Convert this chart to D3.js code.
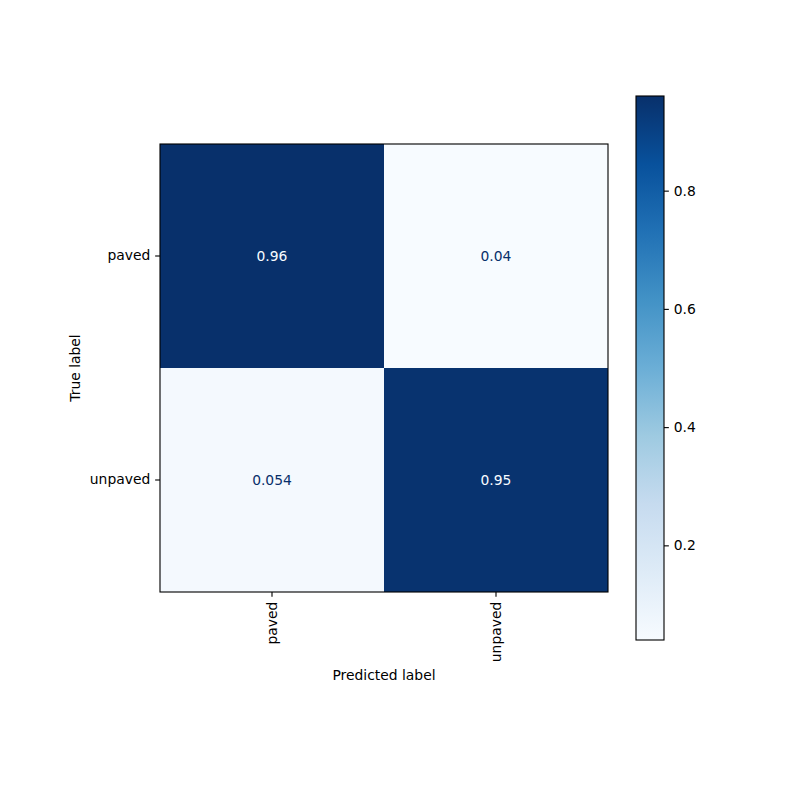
<!DOCTYPE html>
<html><head><meta charset="utf-8">
<script src="https://cdn.jsdelivr.net/npm/d3@7"></script>
<style>body{margin:0;background:#fff}text{font-family:"DejaVu Sans",sans-serif;}</style>
</head><body><svg id="c" width="800" height="800"></svg>
<script>
const trueLabels = ["paved", "unpaved"];
const predLabels = ["paved", "unpaved"];
const matrix = [[0.96, 0.04], [0.054, 0.95]];
const cellText = [["0.96", "0.04"], ["0.054", "0.95"]];
const cbTicks = [0.2, 0.4, 0.6, 0.8];
const vmin = 0.0399, vmax = 0.9601;
const bluesStops = ["#f7fbff","#deebf7","#c6dbef","#9ecae1","#6baed6","#4292c6","#2171b5","#08519c","#08306b"];

const svg = d3.select("#c");
const fs = 13.89, tk = 4.86, lw = 1.11;
const L = 160, T = 144, W = 448, H = 448;
const color = d3.scaleLinear()
  .domain(bluesStops.map((_, i) => vmin + (vmax - vmin) * i / (bluesStops.length - 1)))
  .range(bluesStops).interpolate(d3.interpolateRgb).clamp(true);

const x = d3.scaleBand().domain(predLabels).range([L, L + W]);
const y = d3.scaleBand().domain(trueLabels).range([T, T + H]);

const cells = [];
trueLabels.forEach((t, i) => predLabels.forEach((p, j) => cells.push({t, p, v: matrix[i][j], s: cellText[i][j]})));

svg.selectAll("rect.cell").data(cells).enter().append("rect")
  .attr("x", d => x(d.p)).attr("y", d => y(d.t))
  .attr("width", x.bandwidth()).attr("height", y.bandwidth())
  .attr("fill", d => color(d.v)).attr("shape-rendering", "crispEdges");

const thresh = (vmax + vmin) / 2;
svg.selectAll("text.cell").data(cells).enter().append("text")
  .attr("x", d => x(d.p) + x.bandwidth() / 2).attr("y", d => y(d.t) + y.bandwidth() / 2)
  .attr("text-anchor", "middle").attr("dominant-baseline", "central")
  .attr("font-size", fs)
  .attr("fill", d => d.v >= thresh ? color(vmin) : color(vmax))
  .text(d => d.s);

svg.append("rect").attr("x", L).attr("y", T).attr("width", W).attr("height", H)
  .attr("fill", "none").attr("stroke", "#000").attr("stroke-width", lw);

const xAxis = svg.append("g").attr("transform", `translate(0,${T + H})`)
  .call(d3.axisBottom(x).tickSize(tk).tickPadding(tk));
xAxis.select(".domain").remove();
xAxis.selectAll("line").attr("stroke-width", lw);
xAxis.selectAll("text").attr("font-size", fs).attr("font-family", "DejaVu Sans")
  .attr("transform", "rotate(-90)").attr("text-anchor", "end")
  .attr("x", -2 * tk).attr("y", 0).attr("dy", "0.35em").attr("fill", "#000");

const yAxis = svg.append("g").attr("transform", `translate(${L},0)`)
  .call(d3.axisLeft(y).tickSize(tk).tickPadding(tk));
yAxis.select(".domain").remove();
yAxis.selectAll("line").attr("stroke-width", lw);
yAxis.selectAll("text").attr("font-size", fs).attr("font-family", "DejaVu Sans").attr("fill", "#000");

svg.append("text").attr("x", L + W / 2).attr("y", 680).attr("text-anchor", "middle")
  .attr("font-size", fs).text("Predicted label");
svg.append("text").attr("transform", `translate(80,${T + H / 2}) rotate(-90)`)
  .attr("text-anchor", "middle").attr("font-size", fs).text("True label");

// colorbar
const cbX = 636, cbW = 28, cbT = 96, cbB = 640;
const cy = d3.scaleLinear().domain([vmin, vmax]).range([cbB, cbT]);
const defs = svg.append("defs");
const grad = defs.append("linearGradient").attr("id", "g").attr("x1", 0).attr("y1", 1).attr("x2", 0).attr("y2", 0);
d3.range(0, 1.0001, 0.125).forEach(f => {
  grad.append("stop").attr("offset", f).attr("stop-color", color(vmin + f * (vmax - vmin)));
});
svg.append("rect").attr("x", cbX).attr("y", cbT).attr("width", cbW).attr("height", cbB - cbT)
  .attr("fill", "url(#g)").attr("stroke", "#000").attr("stroke-width", lw);
const cAxis = svg.append("g").attr("transform", `translate(${cbX + cbW},0)`)
  .call(d3.axisRight(cy).tickValues(cbTicks).tickFormat(d3.format(".1f")).tickSize(tk).tickPadding(tk));
cAxis.select(".domain").remove();
cAxis.selectAll("line").attr("stroke-width", lw);
cAxis.selectAll("text").attr("font-size", fs).attr("font-family", "DejaVu Sans").attr("fill", "#000");
</script></body></html>
